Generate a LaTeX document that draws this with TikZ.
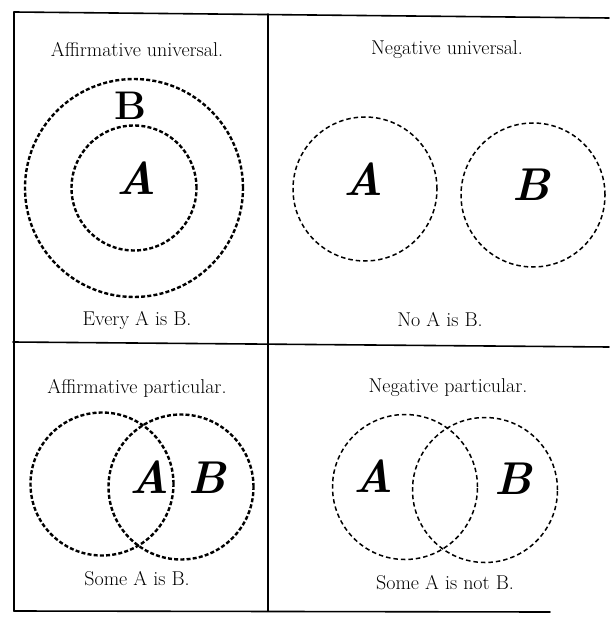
\documentclass[tikz,border=0pt]{standalone}
\begin{document}
\begin{tikzpicture}[x=1pt,y=-1pt,
  frame/.style={line width=1.6pt,line cap=round},
  thickdash/.style={circle,draw,line width=2.4pt,dash pattern=on 4pt off 2.2pt,inner sep=0pt},
  thindash/.style={circle,draw,line width=1.5pt,dash pattern=on 4.5pt off 3pt,inner sep=0pt},
  caption/.style={font=\fontsize{20}{24}\selectfont},
  letter/.style={font=\fontsize{46}{50}\selectfont\bfseries\itshape}]
\useasboundingbox (0,0) rectangle (609,617);
% frame
\coordinate (tl) at (14,12);
\coordinate (tr) at (609,18);
\coordinate (tm) at (268,14);
\coordinate (ml) at (13,342);
\coordinate (mm) at (268,343);
\coordinate (mr) at (609,347);
\coordinate (bl) at (14,611);
\coordinate (bm) at (268,611);
\coordinate (br) at (550,612);
\draw[frame] (tl) -- (tr);
\draw[frame] (tl) -- (bl);
\draw[frame] (tm) -- (bm);
\draw[frame] (ml) -- (mr);
\draw[frame] (bl) -- (br);
% Affirmative universal
\node[caption] (t1) at (137,50) {Affirmative universal.};
\node[thickdash,minimum size=218pt] (B1) at (134,188) {};
\node[thickdash,minimum size=125pt] (A1) at (134,188) {};
\node[font=\fontsize{40}{44}\selectfont\bfseries] (lb1) at (130,106) {B};
\node[letter] (la1) at (136,178) {A};
\node[caption] (c1) at (137,320) {Every A is B.};
% Negative universal
\node[caption] (t2) at (447,50) {Negative universal.};
\node[thindash,minimum size=144pt] (A2) at (365,189) {};
\node[thindash,minimum size=144pt] (B2) at (533,195) {};
\node[letter] (la2) at (363,179) {A};
\node[letter] (lb2) at (531,185) {B};
\node[caption] (c2) at (440,320) {No A is B.};
% Affirmative particular
\node[caption] (t3) at (137,388) {Affirmative particular.};
\node[thickdash,minimum size=143pt] (A3) at (102,484) {};
\node[thickdash,minimum size=145pt] (B3) at (181,487) {};
\node[letter] (la3) at (149,477) {A};
\node[letter] (lb3) at (207,478) {B};
\node[caption] (c3) at (137,579) {Some A is B.};
% Negative particular
\node[caption] (t4) at (448,388) {Negative particular.};
\node[thindash,minimum size=145pt] (A4) at (405,487) {};
\node[thindash,minimum size=145pt] (B4) at (485,490) {};
\node[letter] (la4) at (373,476) {A};
\node[letter] (lb4) at (513,479) {B};
\node[caption] (c4) at (445,583) {Some A is not B.};
\end{tikzpicture}
\end{document}
